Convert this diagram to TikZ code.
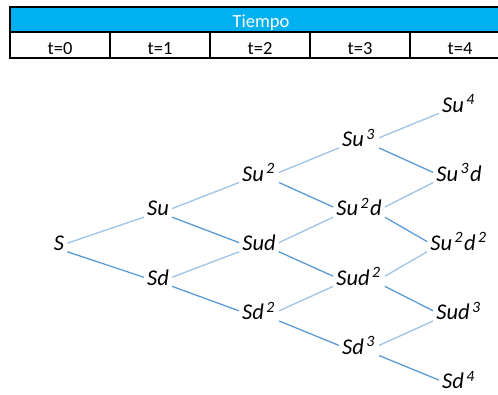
\documentclass[tikz,border=0pt]{standalone}
\usepackage{fontspec}
\setmainfont{Carlito}
\definecolor{header}{HTML}{00B0F0}
\definecolor{uplink}{HTML}{9DC3E6}
\definecolor{downlink}{HTML}{5B9BD5}
\newcommand{\pw}[1]{\kern2.5pt\textsuperscript{#1}\kern1pt}

\begin{document}
\begin{tikzpicture}[x=1pt,y=-1pt,
    price/.style={anchor=base,inner xsep=3pt,inner ysep=1pt,font=\fontsize{22.5}{26}\selectfont\itshape},
    cell/.style={anchor=base,font=\fontsize{18.5}{20}\selectfont},
    rule/.style={line width=2.5pt},
    up/.style={uplink,line width=1.3pt},
    down/.style={downlink,line width=1.3pt}]
\useasboundingbox (0,0) rectangle (498,394);
% table head
\fill[header] (10,7) rectangle (512,32);
\node[cell,text=white] (tiempo) at (261,27) {Tiempo};
\foreach \t in {0,...,4}
    \node[cell] (t\t) at ({60+100*\t},54) {t=\t};
\draw[rule] (10,7) rectangle (512,58);
\draw[rule] (10,32) -- (512,32);
\foreach \x in {110,210,310,410}
    \draw[line width=2pt] (\x,32) -- (\x,58);
% tree
\node[price] (n00) at (59,250.4) {S};
\node[price] (n10) at (158,215.8) {Su};
\node[price] (n11) at (158,285) {Sd};
\node[price] (n20) at (259,181.2) {Su\pw{2}};
\node[price] (n21) at (259,250.4) {Sud};
\node[price] (n22) at (259,319.6) {Sd\pw{2}};
\node[price] (n30) at (359,146.6) {Su\pw{3}};
\node[price] (n31) at (359,215.8) {Su\pw{2}d};
\node[price] (n32) at (359,285) {Sud\pw{2}};
\node[price] (n33) at (359,354.2) {Sd\pw{3}};
\node[price] (n40) at (459,112) {Su\pw{4}};
\node[price] (n41) at (459,181.2) {Su\pw{3}d};
\node[price] (n42) at (459,250.4) {Su\pw{2}d\pw{2}};
\node[price] (n43) at (459,319.6) {Sud\pw{3}};
\node[price] (n44) at (459,388.8) {Sd\pw{4}};
\foreach \i in {0,...,3}
    \foreach \j in {0,...,\i} {
        \pgfmathtruncatemacro\ni{\i+1}
        \pgfmathtruncatemacro\nj{\j+1}
        \draw[up] (n\i\j.east) -- (n\ni\j.south west);
        \draw[down] (n\i\j.south east) -- (n\ni\nj.west);
    }
\end{tikzpicture}
\end{document}
